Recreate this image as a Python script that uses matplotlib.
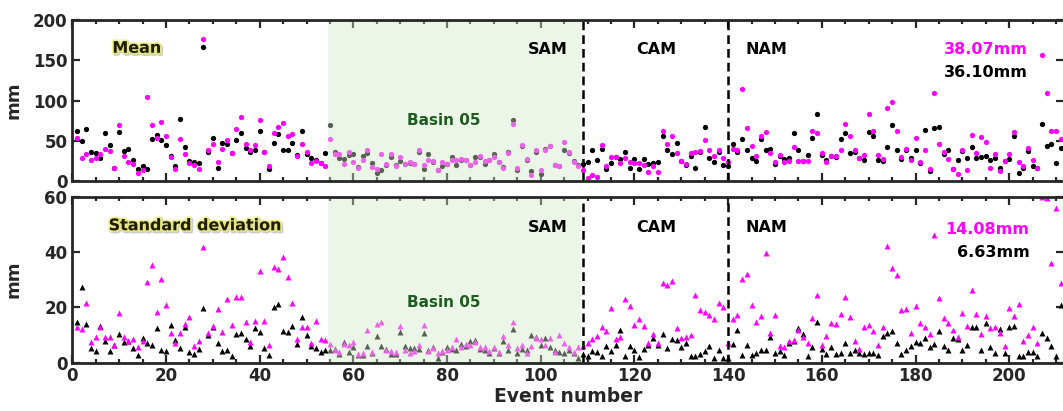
import numpy as np
import matplotlib
matplotlib.use('Agg')
import matplotlib.pyplot as plt
import matplotlib.patheffects as pe
from matplotlib.ticker import MultipleLocator

#
# event-wise mean precipitation (mm): black = reference, magenta = model
#
mean_k = [63, 50.5, 65, 36, 35, 29, 60, 45, 17, 61, 37.6, 40.6, 27, 15.3, 18.6, 15, 52.5, 57, 51, 45.6,
          31, 18.6, 77.4, 42.6, 25, 24, 23, 167, 36.4, 54, 17, 48, 47, 35, 51, 60.5, 41.4, 36, 39, 62.5,
          36, 15.8, 48, 58.8, 38.5, 38.5, 47.5, 33, 63, 33.5, 29, 26, 23, 35, 70, 36.5, 29.4, 28.2, 33, 33.5,
          18, 31, 35, 22.8, 10.4, 13.7, 21, 30, 20, 25.3, 22, 23, 22, 36, 15.8, 33.5, 24, 14, 18.6, 22,
          30.2, 21, 27, 26, 20, 30.2, 30, 21.2, 27, 33.5, 24, 18, 36.5, 76.6, 13.7, 44, 27, 12.9, 36.5, 8.7,
          40.8, 44, 20, 18.6, 38.5, 35, 25, 20, 22, 23.6, 38.5, 26, 40.8, 15.8, 22.8, 30, 27.8, 36.5, 17, 27.8,
          15.4, 27.8, 22, 22.8, 24, 56.4, 38.5, 33.5, 47.5, 25, 21, 32, 17, 37, 67.5, 29.4, 24.4, 37, 20.3, 19.5,
          46.8, 36.5, 52.6, 39.3, 28.6, 25.3, 52.6, 39.3, 40.8, 21.2, 32, 27.8, 28.6, 60, 38.5, 25, 32.3, 54, 83.6, 32.3,
          26, 31, 30, 53, 60, 35.2, 36.5, 29, 26, 61, 56.4, 26, 25.3, 42.6, 69.7, 38.5, 27.8, 38.5, 29.4, 38.5,
          22.8, 63.4, 12.9, 66.7, 67.5, 33.5, 39.3, 15, 26, 38, 28.6, 42.6, 28.6, 30, 32, 26, 29.4, 17, 25, 27.8,
          56.4, 10.4, 17, 37.3, 18.6, 17, 71.6, 43.5, 46.8, 22.8, 42]
mean_m = [54, 29, 33.5, 27, 29, 33.5, 40.6, 37.6, 17, 70, 31, 23.6, 22, 10.3, 14.5, 104.7, 69.6, 54, 73.7, 56,
          30, 15.8, 53, 33.5, 23, 20, 15.8, 176, 38.5, 46.8, 23.6, 40.6, 51, 35, 65, 79.5, 46.8, 39, 44.7, 76,
          37, 18.6, 60.5, 68, 72.5, 56, 59, 32, 46, 36, 23, 25.5, 22.7, 18.6, 52.6, 33.5, 33.5, 22, 36, 23.6,
          17, 26, 39.3, 17.8, 15.8, 33.5, 21.2, 33.5, 19.5, 30.2, 22, 23.6, 22, 39.3, 19.9, 26, 25.3, 13.7, 23.6, 22,
          26, 26, 27.8, 26, 20.3, 24, 31, 25.3, 26, 30.2, 23.6, 17, 35.2, 70.8, 17, 45.6, 27.8, 7.5, 38.5, 14.5,
          38.5, 44.4, 19.9, 18.6, 48.9, 36.4, 24, 18.6, 13.7, 4.3, 7.5, 5, 44.9, 18.6, 30, 30.2, 22.8, 29.4, 24, 22.8,
          22.8, 19.9, 11.6, 18.6, 11.2, 62, 46.8, 56.4, 35.2, 25.3, 21.2, 35.2, 36.5, 37.3, 50.8, 39.3, 31, 38.5, 29.4, 23.6,
          40.8, 39.3, 115, 66.7, 43.5, 31, 56.4, 60.9, 35.2, 24.4, 32.3, 24.4, 25.3, 42.6, 25.3, 25.3, 25.3, 62, 60, 35.2,
          23.6, 31, 31, 38.5, 71.6, 56, 39.3, 29.4, 32.3, 83.6, 62, 32.3, 28, 91.5, 99, 62.7, 30.2, 40.8, 26, 54,
          24.4, 39.3, 15.4, 109, 46.8, 36.5, 27.8, 15.4, 9.4, 38.5, 13.7, 58, 35.2, 55, 48.5, 17, 34.3, 12.9, 25.3, 34.3,
          61, 24.4, 18.6, 41, 26, 17, 156.5, 109.7, 62, 62, 52.6]
#
# event-wise standard deviation (mm)
#
std_k = [14.5, 27.3, 14, 5.4, 4.2, 13.2, 7.7, 4.2, 6.5, 10.3, 7.4, 7.9, 5.1, 2.7, 8.8, 7, 6.3, 12.4, 4.5, 4.2,
         13.4, 8.3, 5.4, 13, 3.8, 3.2, 4.9, 19.6, 9.9, 12.7, 7.1, 4.2, 4.7, 2.3, 10.3, 10.8, 8.6, 6, 12.4, 11,
         5.4, 2.6, 20, 21, 11.3, 11.2, 13.2, 6.7, 16.6, 9.8, 6, 5.4, 3.7, 4.5, 4.7, 4.9, 3, 7.6, 3.9, 5.7,
         2.6, 2.7, 5.9, 3.3, 9.6, 5.9, 5, 3, 3, 11.2, 5.9, 5.1, 5.1, 4.9, 10.6, 4.5, 5.5, 1.8, 3.8, 5.5,
         5, 4.7, 6.7, 5.9, 7.7, 8.2, 5, 4.5, 3.5, 5.1, 3.5, 7.9, 4.7, 12, 3.3, 5, 4.5, 10.1, 9.4, 6.2,
         8.7, 5.5, 4.5, 3.8, 3.3, 4.7, 3.5, 1.8, 3, 2.5, 4.2, 3.9, 2.3, 5.9, 4, 6.2, 11.8, 2.5, 5.9, 4.7,
         2.1, 5, 6.2, 8.7, 6.2, 10.3, 5.2, 8.4, 8.2, 5.5, 6.9, 2.5, 2.5, 3, 4, 5.9, 1.6, 4.5, 1.6, 1.5,
         6.6, 11.8, 2.7, 6.2, 2.7, 3.5, 4.5, 4.5, 9.4, 3.3, 4, 2.7, 6.9, 7.7, 12.5, 10.3, 2.5, 5.5, 14.8, 4.9,
         3, 5.7, 3, 3.5, 7.1, 3.5, 4.7, 3.5, 3, 3.5, 3.5, 2.7, 9.6, 10.8, 11.3, 6.9, 3, 4.7, 5.9, 7.4,
         7.1, 8.7, 5.7, 6.7, 11.3, 5.9, 4.7, 8.7, 8.5, 4.7, 6.2, 13, 13, 4.7, 14.2, 5.5, 3.5, 12.1, 3.3, 13,
         13.2, 2.5, 2.5, 3.8, 3.8, 2.3, 10.6, 8.7, 5.9, 2.5, 20.8]
std_m = [12.9, 12, 21.5, 7.5, 9.3, 12.9, 9.3, 9.3, 6.3, 17.8, 9.3, 7.9, 8.6, 5.7, 7.9, 29.3, 35.4, 18.4, 30.2, 20.7,
         10.5, 7.1, 10.5, 13.9, 16.6, 5.9, 7.9, 41.8, 10.5, 13.2, 19.4, 11.1, 23.1, 13.4, 23.6, 23.6, 14.8, 7.5, 15, 33,
         15, 6.2, 34.5, 33.8, 38.2, 30.9, 21.7, 8.6, 12.7, 12.7, 7, 15, 8.6, 8.2, 6.7, 4.7, 3.9, 6.7, 6.3, 7.6,
         3, 3.3, 11.7, 3.9, 14, 14.5, 4.7, 4.3, 3.8, 13.2, 4.7, 3.3, 4.3, 6.3, 13.6, 4, 5.2, 3.3, 4.3, 4.5,
         5.5, 8.4, 5.7, 6.7, 6.3, 7.6, 5.7, 5.5, 4, 5.7, 3.8, 9.6, 6.2, 14.7, 5.2, 6.2, 3.5, 6, 8.7, 8.4,
         6.2, 8.7, 3.8, 9.8, 7.1, 5.5, 3.9, 5.7, 6, 6.9, 8.4, 9.6, 13, 11.4, 19.6, 8.4, 9.4, 22.9, 20.5, 13.7,
         15.6, 13.2, 7.1, 10.3, 7.1, 28.7, 28.2, 29.6, 12.4, 8.8, 9.2, 9.8, 24.3, 19, 18.1, 17.1, 15.6, 21.4, 20, 6.9,
         15.9, 17.1, 30.1, 32.2, 20.9, 14.7, 16.8, 39.6, 10.8, 17.1, 5.9, 5.7, 7.7, 8.2, 11.8, 9.4, 7.1, 16, 24.3, 6.2,
         9.6, 14.4, 14, 17.6, 23.8, 16.4, 7.9, 4.9, 13, 13.7, 11.3, 6.2, 12.7, 42, 34.3, 31.6, 19, 19.3, 10.8, 20.5,
         14.2, 13, 10.3, 46, 23.4, 16.1, 14.4, 11.8, 9.3, 17.9, 13.2, 26.4, 17.6, 10.3, 16.8, 12.4, 13, 10.8, 5.9, 19.6,
         16.7, 21.2, 7.9, 10.1, 13, 6.9, 59.8, 59.5, 36, 56, 28.7]

events = np.arange(1, len(mean_k) + 1)

regions = ['SAM', 'CAM', 'NAM']
region_x = [101.5, 124.6, 148.1]
region_bounds = [109, 140]
basin_span = [54.6, 108.6]
mean_avg = ['38.07mm', '36.10mm']
std_avg = ['14.08mm', '6.63mm']

MAG = '#ff00ff'
DARK = '#262626'
plt.rcParams['font.family'] = 'DejaVu Sans'
plt.rcParams['font.weight'] = 'bold'

fig = plt.figure(figsize=(10.63, 4.11), dpi=100)
ax1 = fig.add_axes([0.068, 0.5584, 0.9325, 0.393])
ax2 = fig.add_axes([0.068, 0.118, 0.9325, 0.4034])

# soft yellow halo behind the panel titles
glow = [pe.SimpleLineShadow(offset=(1, -1), shadow_color='#999999', alpha=0.5, linewidth=2.5),
        pe.withStroke(linewidth=2.6, foreground='#eded70', alpha=0.75)]


def style(ax, ymax, ystep):
  ax.set_xlim(0, 211.6)
  ax.set_ylim(0, ymax)
  ax.xaxis.set_major_locator(MultipleLocator(20))
  ax.xaxis.set_minor_locator(MultipleLocator(5))
  ax.yaxis.set_major_locator(MultipleLocator(ystep))
  ax.tick_params(which='both', direction='in', top=True, right=True, colors=DARK,
                 labelsize=12, width=1.6)
  ax.tick_params(which='major', length=6)
  ax.tick_params(which='minor', length=3)
  ax.tick_params(axis='y', which='minor', length=0)
  for lab in ax.get_xticklabels() + ax.get_yticklabels():
    lab.set_fontweight('bold')
  for s in ax.spines.values():
    s.set_linewidth(2)
    s.set_color(DARK)
    s.set_zorder(3)
  ax.set_ylabel('mm', fontsize=13, fontweight='bold', color=DARK, labelpad=4)
  ax.axvspan(basin_span[0], basin_span[1], facecolor='#d4ebca', alpha=0.42, lw=0, zorder=2.6)
  for xb in region_bounds:
    ax.axvline(xb, color='black', lw=1.8, ls=(0, (3.5, 2)), zorder=3)


#
# top panel: mean
#
ax1.plot(events, mean_k, 'o', color='black', ms=3.8, mec='none', zorder=2)
ax1.plot(events, mean_m, 'o', color=MAG, ms=3.8, mec='none', zorder=2.1)
style(ax1, 200, 50)
ax1.set_xticklabels([])
ax1.text(13.8, 165, 'Mean', fontsize=11.5, fontweight='bold', color='#1e1e00',
         ha='center', va='center', path_effects=glow, zorder=4)
for name, xr in zip(regions, region_x):
  ax1.text(xr, 164, name, fontsize=11.5, fontweight='bold', ha='center', va='center', zorder=4)
ax1.text(79.4, 76, 'Basin 05', fontsize=11, fontweight='bold', color='#1f5c1f',
         ha='center', va='center', zorder=4)
ax1.text(204, 164, mean_avg[0], fontsize=11.5, fontweight='bold', color=MAG, ha='right', va='center', zorder=4)
ax1.text(204, 135, mean_avg[1], fontsize=11.5, fontweight='bold', color='black', ha='right', va='center', zorder=4)

#
# bottom panel: standard deviation
#
ax2.plot(events, std_k, '^', color='black', ms=4.4, mec='none', zorder=2)
ax2.plot(events, std_m, '^', color=MAG, ms=4.4, mec='none', zorder=2.1)
style(ax2, 60, 20)
ax2.set_xlabel('Event number', fontsize=13.5, fontweight='bold', color=DARK, labelpad=1)
ax2.text(26.3, 49.5, 'Standard deviation', fontsize=11.5, fontweight='bold', color='#1e1e00',
         ha='center', va='center', path_effects=glow, zorder=4)
for name, xr in zip(regions, region_x):
  ax2.text(xr, 49, name, fontsize=11.5, fontweight='bold', ha='center', va='center', zorder=4)
ax2.text(79.4, 21.7, 'Basin 05', fontsize=11, fontweight='bold', color='#1f5c1f',
         ha='center', va='center', zorder=4)
ax2.text(204.3, 48.3, std_avg[0], fontsize=11.5, fontweight='bold', color=MAG, ha='right', va='center', zorder=4)
ax2.text(204.3, 39.9, std_avg[1], fontsize=11.5, fontweight='bold', color='black', ha='right', va='center', zorder=4)

for ax in (ax1, ax2):
  ax.yaxis.set_label_coords(-0.05, 0.5)

fig.savefig('out.png', dpi=100)
